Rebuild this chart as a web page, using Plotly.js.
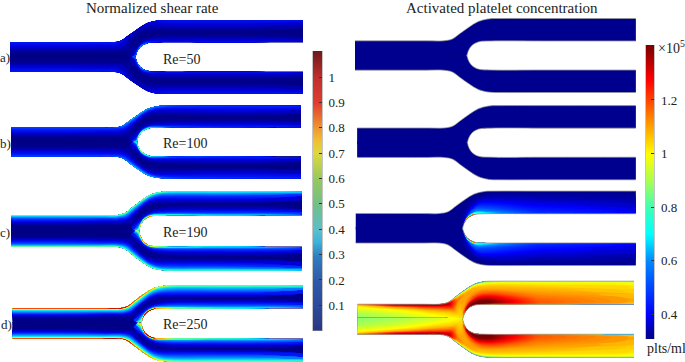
<!DOCTYPE html>
<html><head><meta charset="utf-8">
<script src="https://cdn.plot.ly/plotly-3.0.1.min.js"></script>
<style>html,body{margin:0;padding:0;background:#fff}#c{width:685px;height:362px}</style>
</head><body><div id="c"></div>
<script>
// Across-channel stations (0 = outer wall, 1 = centre line / inner wall)
const crossFractions=[0,.03,.08,.18,.35,.55,.75,.88,.95,1];
// Along-channel stations, relative to the nose tip
const outerDu=[null,-66,-40,-24,-15,-7,2,11,21,34,74,null];
const outerV=[-14.7,-14.7,-14.7,-14.7,-16.5,-22.2,-28.6,-34,-36.6,-37,-37,-37];
const innerDu=[null,-66,-24,-6,-.5,.1,1.2,4.5,11,24,74,null];
const innerV=[1.5,1.5,1.5,1,.3,-1.8,-5,-10,-13.6,-14.5,-14.5,-14.5];

const shearRe50=[
[.17,.17,.17,.17,.15,.11,.10,.12,.14,.15,.15,.15],
[.16,.16,.16,.16,.14,.10,.09,.11,.13,.14,.14,.14],
[.14,.14,.14,.14,.13,.09,.08,.10,.12,.13,.13,.13],
[.13,.13,.12,.12,.10,.07,.06,.08,.10,.11,.11,.11],
[.10,.10,.09,.09,.07,.05,.04,.05,.06,.07,.07,.07],
[.05,.05,.05,.05,.05,.04,.03,.03,.03,.02,.02,.02],
[.03,.03,.03,.03,.07,.07,.06,.06,.05,.06,.06,.06],
[.02,.02,.02,.02,.12,.12,.12,.13,.11,.10,.10,.10],
[.01,.01,.02,.02,.18,.18,.20,.24,.17,.13,.13,.13],
[.01,.01,.02,.02,.26,.28,.30,.34,.26,.15,.15,.15]];
const shearRe100=[
[.26,.26,.26,.26,.30,.36,.36,.34,.30,.26,.22,.20],
[.21,.21,.21,.21,.24,.28,.28,.27,.24,.21,.19,.18],
[.18,.18,.18,.18,.20,.22,.22,.21,.19,.17,.16,.16],
[.15,.15,.14,.14,.14,.14,.13,.12,.12,.12,.13,.13],
[.11,.11,.10,.10,.08,.06,.05,.05,.06,.07,.08,.08],
[.05,.05,.05,.05,.05,.04,.03,.03,.03,.02,.02,.02],
[.03,.03,.03,.03,.10,.10,.08,.07,.06,.07,.08,.08],
[.02,.02,.03,.03,.17,.17,.16,.16,.14,.13,.13,.13],
[.01,.01,.02,.03,.28,.30,.36,.32,.26,.20,.16,.16],
[.01,.01,.02,.03,.42,.50,.62,.62,.55,.36,.22,.20]];
const shearRe190=[
[.58,.58,.58,.58,.55,.60,.60,.60,.58,.55,.55,.52],
[.42,.42,.42,.42,.42,.45,.46,.46,.44,.40,.40,.38],
[.32,.32,.32,.32,.32,.34,.34,.34,.32,.30,.30,.28],
[.22,.22,.20,.20,.20,.20,.19,.19,.20,.20,.20,.19],
[.13,.13,.11,.11,.09,.07,.06,.08,.10,.11,.11,.11],
[.05,.05,.04,.04,.05,.04,.03,.03,.03,.03,.02,.02],
[.02,.02,.02,.02,.15,.15,.10,.07,.06,.09,.11,.11],
[.01,.01,.02,.03,.30,.28,.24,.17,.16,.18,.19,.19],
[.01,.01,.03,.04,.48,.46,.46,.40,.32,.30,.28,.28],
[.01,.01,.03,.04,.60,.68,.80,.90,.86,.60,.45,.42]];
const shearRe250=[
[1.10,1.10,1.10,1.10,1.00,.90,.85,.80,.70,.62,.60,.60],
[.70,.70,.70,.70,.66,.70,.66,.62,.56,.50,.48,.48],
[.46,.46,.46,.46,.46,.50,.48,.46,.42,.38,.38,.38],
[.32,.32,.30,.30,.28,.30,.30,.30,.30,.28,.28,.28],
[.16,.16,.12,.12,.10,.07,.10,.13,.15,.16,.16,.16],
[.05,.05,.04,.04,.06,.05,.03,.04,.04,.04,.03,.03],
[.02,.02,.02,.02,.20,.20,.14,.08,.08,.12,.14,.14],
[.01,.01,.02,.03,.40,.40,.32,.20,.20,.24,.24,.24],
[.01,.01,.03,.04,.60,.62,.56,.46,.40,.36,.34,.34],
[.01,.01,.03,.05,.74,.80,.95,1.10,1.10,.80,.55,.50]];

const plateletLow=[
[.32,.32,.32,.32,.32,.32,.32,.32,.32,.32,.32,.32],
[.32,.32,.32,.32,.32,.32,.32,.32,.32,.32,.32,.32],
[.32,.32,.32,.32,.32,.32,.32,.32,.32,.32,.32,.32],
[.32,.32,.32,.32,.32,.32,.32,.32,.32,.32,.32,.32],
[.32,.32,.32,.32,.32,.32,.32,.32,.32,.32,.32,.32],
[.32,.32,.32,.32,.32,.32,.32,.32,.32,.32,.32,.32],
[.32,.32,.32,.32,.32,.32,.32,.32,.32,.32,.32,.32],
[.32,.32,.32,.32,.32,.32,.32,.32,.32,.32,.32,.32],
[.32,.32,.32,.32,.32,.32,.32,.32,.32,.32,.32,.32],
[.32,.32,.32,.32,.32,.32,.32,.32,.32,.32,.32,.32]];
const plateletRe190=[
[.32,.32,.32,.32,.32,.32,.32,.32,.32,.32,.32,.32],
[.32,.32,.32,.32,.32,.32,.32,.32,.32,.32,.32,.32],
[.32,.32,.32,.32,.32,.32,.32,.32,.32,.32,.32,.32],
[.32,.32,.32,.32,.32,.32,.32,.32,.32,.33,.33,.33],
[.32,.32,.32,.32,.32,.32,.32,.33,.35,.36,.35,.34],
[.32,.32,.32,.32,.32,.32,.33,.36,.42,.42,.38,.36],
[.32,.32,.32,.32,.32,.32,.34,.42,.52,.50,.42,.38],
[.32,.32,.32,.32,.32,.32,.35,.50,.62,.58,.45,.40],
[.32,.32,.32,.32,.32,.32,.36,.66,.78,.66,.47,.41],
[.32,.32,.32,.32,.32,.32,.40,1.25,1.30,.75,.48,.42]];
const plateletRe250=[
[1.15,1.38,1.40,1.40,1.05,.78,.72,.68,.66,.70,.78,.85],
[1.10,1.35,1.38,1.38,1.25,.95,.90,.85,.84,.88,.93,.95],
[1.05,1.28,1.33,1.33,1.35,1.10,1.03,1.00,.98,1.00,1.00,1.00],
[1.00,1.10,1.20,1.22,1.28,1.15,1.10,1.08,1.05,1.05,1.04,1.03],
[.95,1.00,1.08,1.12,1.16,1.10,1.10,1.10,1.10,1.10,1.08,1.05],
[.90,.95,1.02,1.05,1.08,1.07,1.10,1.13,1.18,1.20,1.12,1.08],
[.88,.92,.98,1.02,1.04,1.05,1.12,1.22,1.33,1.35,1.16,1.10],
[.87,.90,.96,1.00,1.03,1.05,1.17,1.33,1.42,1.42,1.18,1.10],
[.87,.89,.95,1.00,1.03,1.04,1.18,1.38,1.42,1.42,1.18,1.08],
[.87,.89,.95,1.00,1.03,1.03,1.15,1.40,1.30,1.30,1.12,1.02]];

// panel placement: left, nose tip, right, centre y, half height
const shearPanels=[
 {grid:shearRe50,x0:10,tip:136,x1:303,yc:57,half:36.5},
 {grid:shearRe100,x0:11,tip:137.3,x1:301,yc:142,half:36},
 {grid:shearRe190,x0:11,tip:139.3,x1:302,yc:231,half:39},
 {grid:shearRe250,x0:12.5,tip:141.7,x1:303,yc:323.5,half:37.5}];
const plateletPanels=[
 {grid:plateletLow,x0:355,tip:467.3,x1:635.7,yc:55.5,half:36.5},
 {grid:plateletLow,x0:357.3,tip:467.7,x1:635.7,yc:142.7,half:36.6},
 {grid:plateletRe190,x0:355.7,tip:463,x1:635.7,yc:228.3,half:36.7},
 {grid:plateletRe250,x0:357.7,tip:463,x1:634,yc:319.3,half:37.6}];

const shearScale=[[0,'#00007f'],[.04,'#00008f'],[.1,'#0000d8'],[.16,'#0020ff'],[.27,'#0090ff'],[.36,'#00e0ff'],[.45,'#40ffb8'],[.55,'#a0ff60'],[.64,'#ffff00'],[.73,'#ff9800'],[.82,'#ff2000'],[1,'#800000']];
const plateletScale=[[0,'#00007f'],[.085,'#0000ff'],[.267,'#0088ff'],[.358,'#00ffff'],[.449,'#40ffb4'],[.54,'#aaff50'],[.631,'#ffff00'],[.722,'#ffa500'],[.813,'#ff4600'],[.886,'#ff0000'],[1,'#780000']];
const shearBarScale=[[0,'#2a3580'],[.09,'#2c4a9c'],[.18,'#2f5aa8'],[.27,'#2f7fc0'],[.32,'#3fb3dc'],[.36,'#5bbfca'],[.45,'#6fc08a'],[.54,'#93c85e'],[.635,'#dcd83e'],[.68,'#f0c030'],[.725,'#ee9930'],[.77,'#e86a30'],[.815,'#e03c30'],[.905,'#c0302c'],[1,'#6e1a1a']];

const shearBarLevels=[0,.1,.2,.3,.4,.5,.6,.7,.8,.9,1,1.103];
const plateletBarLevels=[.307,.4,.6,.7,.8,.9,1,1.1,1.2,1.28,1.405];
const shearTicks=[.1,.2,.3,.4,.5,.6,.7,.8,.9,1];
const shearTickText=['0.1','0.2','0.3','0.4','0.5','0.6','0.7','0.8','0.9','1'];
const plateletTicks=[.4,.6,.8,1,1.2];
const plateletTickText=['0.4','0.6','0.8','1','1.2'];
const labels=[['a)',5,57],['b)',5,143],['c)',5,232],['d)',6,324]];
const reLabels=[['Re=50',161,59],['Re=100',161,143],['Re=190',161,232],['Re=250',161,324]];

const W=685,H=362,FONT='"Liberation Serif",serif';
const traces=[];
let id=0;
function half(p,sign,scale,zmin,zmax,start,end,step,edge){
  const n=outerV.length, sy=p.half/36.5;
  const xs=[],ys=[];
  const ox=i=>outerDu[i]===null?(i===0?p.x0:p.x1):p.tip+outerDu[i];
  const ix=i=>innerDu[i]===null?(i===0?p.x0:p.x1):p.tip+innerDu[i];
  crossFractions.forEach(f=>{
    const rx=[],ry=[];
    for(let i=0;i<n;i++){
      rx.push(ox(i)+(ix(i)-ox(i))*f);
      ry.push(p.yc+sign*sy*(outerV[i]+(innerV[i]-outerV[i])*f));
    }
    xs.push(rx);ys.push(ry);
  });
  const cid='c'+(id++);
  const ax={showgrid:false,minorgridcount:0,showticklabels:'none',showline:false,startline:false,endline:false,smoothing:1,ticks:''};
  traces.push({type:'carpet',carpet:cid,a:outerV.map((_,i)=>i),b:crossFractions,x:xs,y:ys,
    aaxis:Object.assign({},ax),baxis:Object.assign({},ax,{smoothing:0}),xaxis:'x',yaxis:'y',hoverinfo:'skip'});
  traces.push({type:'contourcarpet',carpet:cid,a:outerV.map((_,i)=>i),b:crossFractions,z:p.grid,
    autocontour:false,contours:{coloring:'fill',start:start,end:end,size:step,showlines:false},
    line:{width:0},colorscale:scale,zauto:false,zmin:zmin,zmax:zmax,showscale:false,xaxis:'x',yaxis:'y'});
  if(edge){
    const seq=[...Array(n).keys()];
    traces.push({type:'scatter',mode:'lines',x:seq.map(ox),y:seq.map(i=>p.yc+sign*sy*outerV[i]),line:{color:edge,width:.8,shape:'spline'},xaxis:'x',yaxis:'y',hoverinfo:'skip'});
    const nose=seq.slice(4);
    traces.push({type:'scatter',mode:'lines',x:nose.map(ix),y:nose.map(i=>p.yc+sign*sy*innerV[i]),line:{color:edge,width:.8,shape:'spline'},xaxis:'x',yaxis:'y',hoverinfo:'skip'});
  }
}
shearPanels.forEach(p=>{half(p,1,shearScale,0,1.103,0,1.11,.008);half(p,-1,shearScale,0,1.103,0,1.11,.008);});
plateletPanels.forEach(p=>{half(p,1,plateletScale,.307,1.405,.30,1.43,.012,'#9a9a9a');half(p,-1,plateletScale,.307,1.405,.30,1.43,.012,'#9a9a9a');});

traces.push({type:'heatmap',x:[0,1],y:shearBarLevels,z:shearBarLevels.map(v=>[v,v]),zsmooth:'best',colorscale:shearBarScale,zmin:0,zmax:1.103,showscale:false,xaxis:'x2',yaxis:'y2'});
traces.push({type:'heatmap',x:[0,1],y:plateletBarLevels,z:plateletBarLevels.map(v=>[v,v]),zsmooth:'best',colorscale:plateletScale,zmin:.307,zmax:1.405,showscale:false,xaxis:'x3',yaxis:'y3'});

const txt=(t,x,y,size,anchor)=>({text:t,x:x,y:y,xref:'x',yref:'y',showarrow:false,xanchor:anchor||'center',yanchor:'middle',font:{family:FONT,size:size,color:'#222'}});
const annotations=[
 txt('Normalized shear rate',152,8,15),
 txt('Activated platelet concentration',502,8,15),
 txt('×10<sup>5</sup>',656,47,14,'left'),
 txt('plts/ml',645,348,14,'left')];
labels.forEach(l=>annotations.push(txt(l[0],l[1],l[2],13)));
reLabels.forEach(l=>annotations.push(txt(l[0],l[1],l[2],14,'left')));

const hidden={visible:false,fixedrange:true};
const barY=(rng,dom,tv,tt)=>({domain:dom,range:rng,side:'right',tickmode:'array',tickvals:tv,ticktext:tt,ticks:'inside',ticklen:3,tickcolor:'#333',tickwidth:1,showgrid:false,zeroline:false,showline:true,linecolor:'#c4c4c4',linewidth:1,mirror:true,tickfont:{family:FONT,size:13,color:'#222'},ticklabelstandoff:3});
const layout={width:W,height:H,margin:{l:0,r:0,t:0,b:0,pad:0},paper_bgcolor:'#fff',plot_bgcolor:'rgba(0,0,0,0)',showlegend:false,
 xaxis:Object.assign({domain:[0,1],range:[0,W]},hidden),
 yaxis:Object.assign({domain:[0,1],range:[H,0]},hidden),
 xaxis2:Object.assign({domain:[313/W,322/W],range:[0,1],anchor:'y2'},hidden),
 yaxis2:Object.assign(barY([0,1.103],[1-330.7/H,1-51/H],shearTicks,shearTickText),{anchor:'x2'}),
 xaxis3:Object.assign({domain:[646/W,654.3/W],range:[0,1],anchor:'y3'},hidden),
 yaxis3:Object.assign(barY([.307,1.405],[1-339.3/H,1-45/H],plateletTicks,plateletTickText),{anchor:'x3'}),
 annotations:annotations};
Plotly.newPlot('c',traces,layout,{staticPlot:true,displayModeBar:false});
</script></body></html>
